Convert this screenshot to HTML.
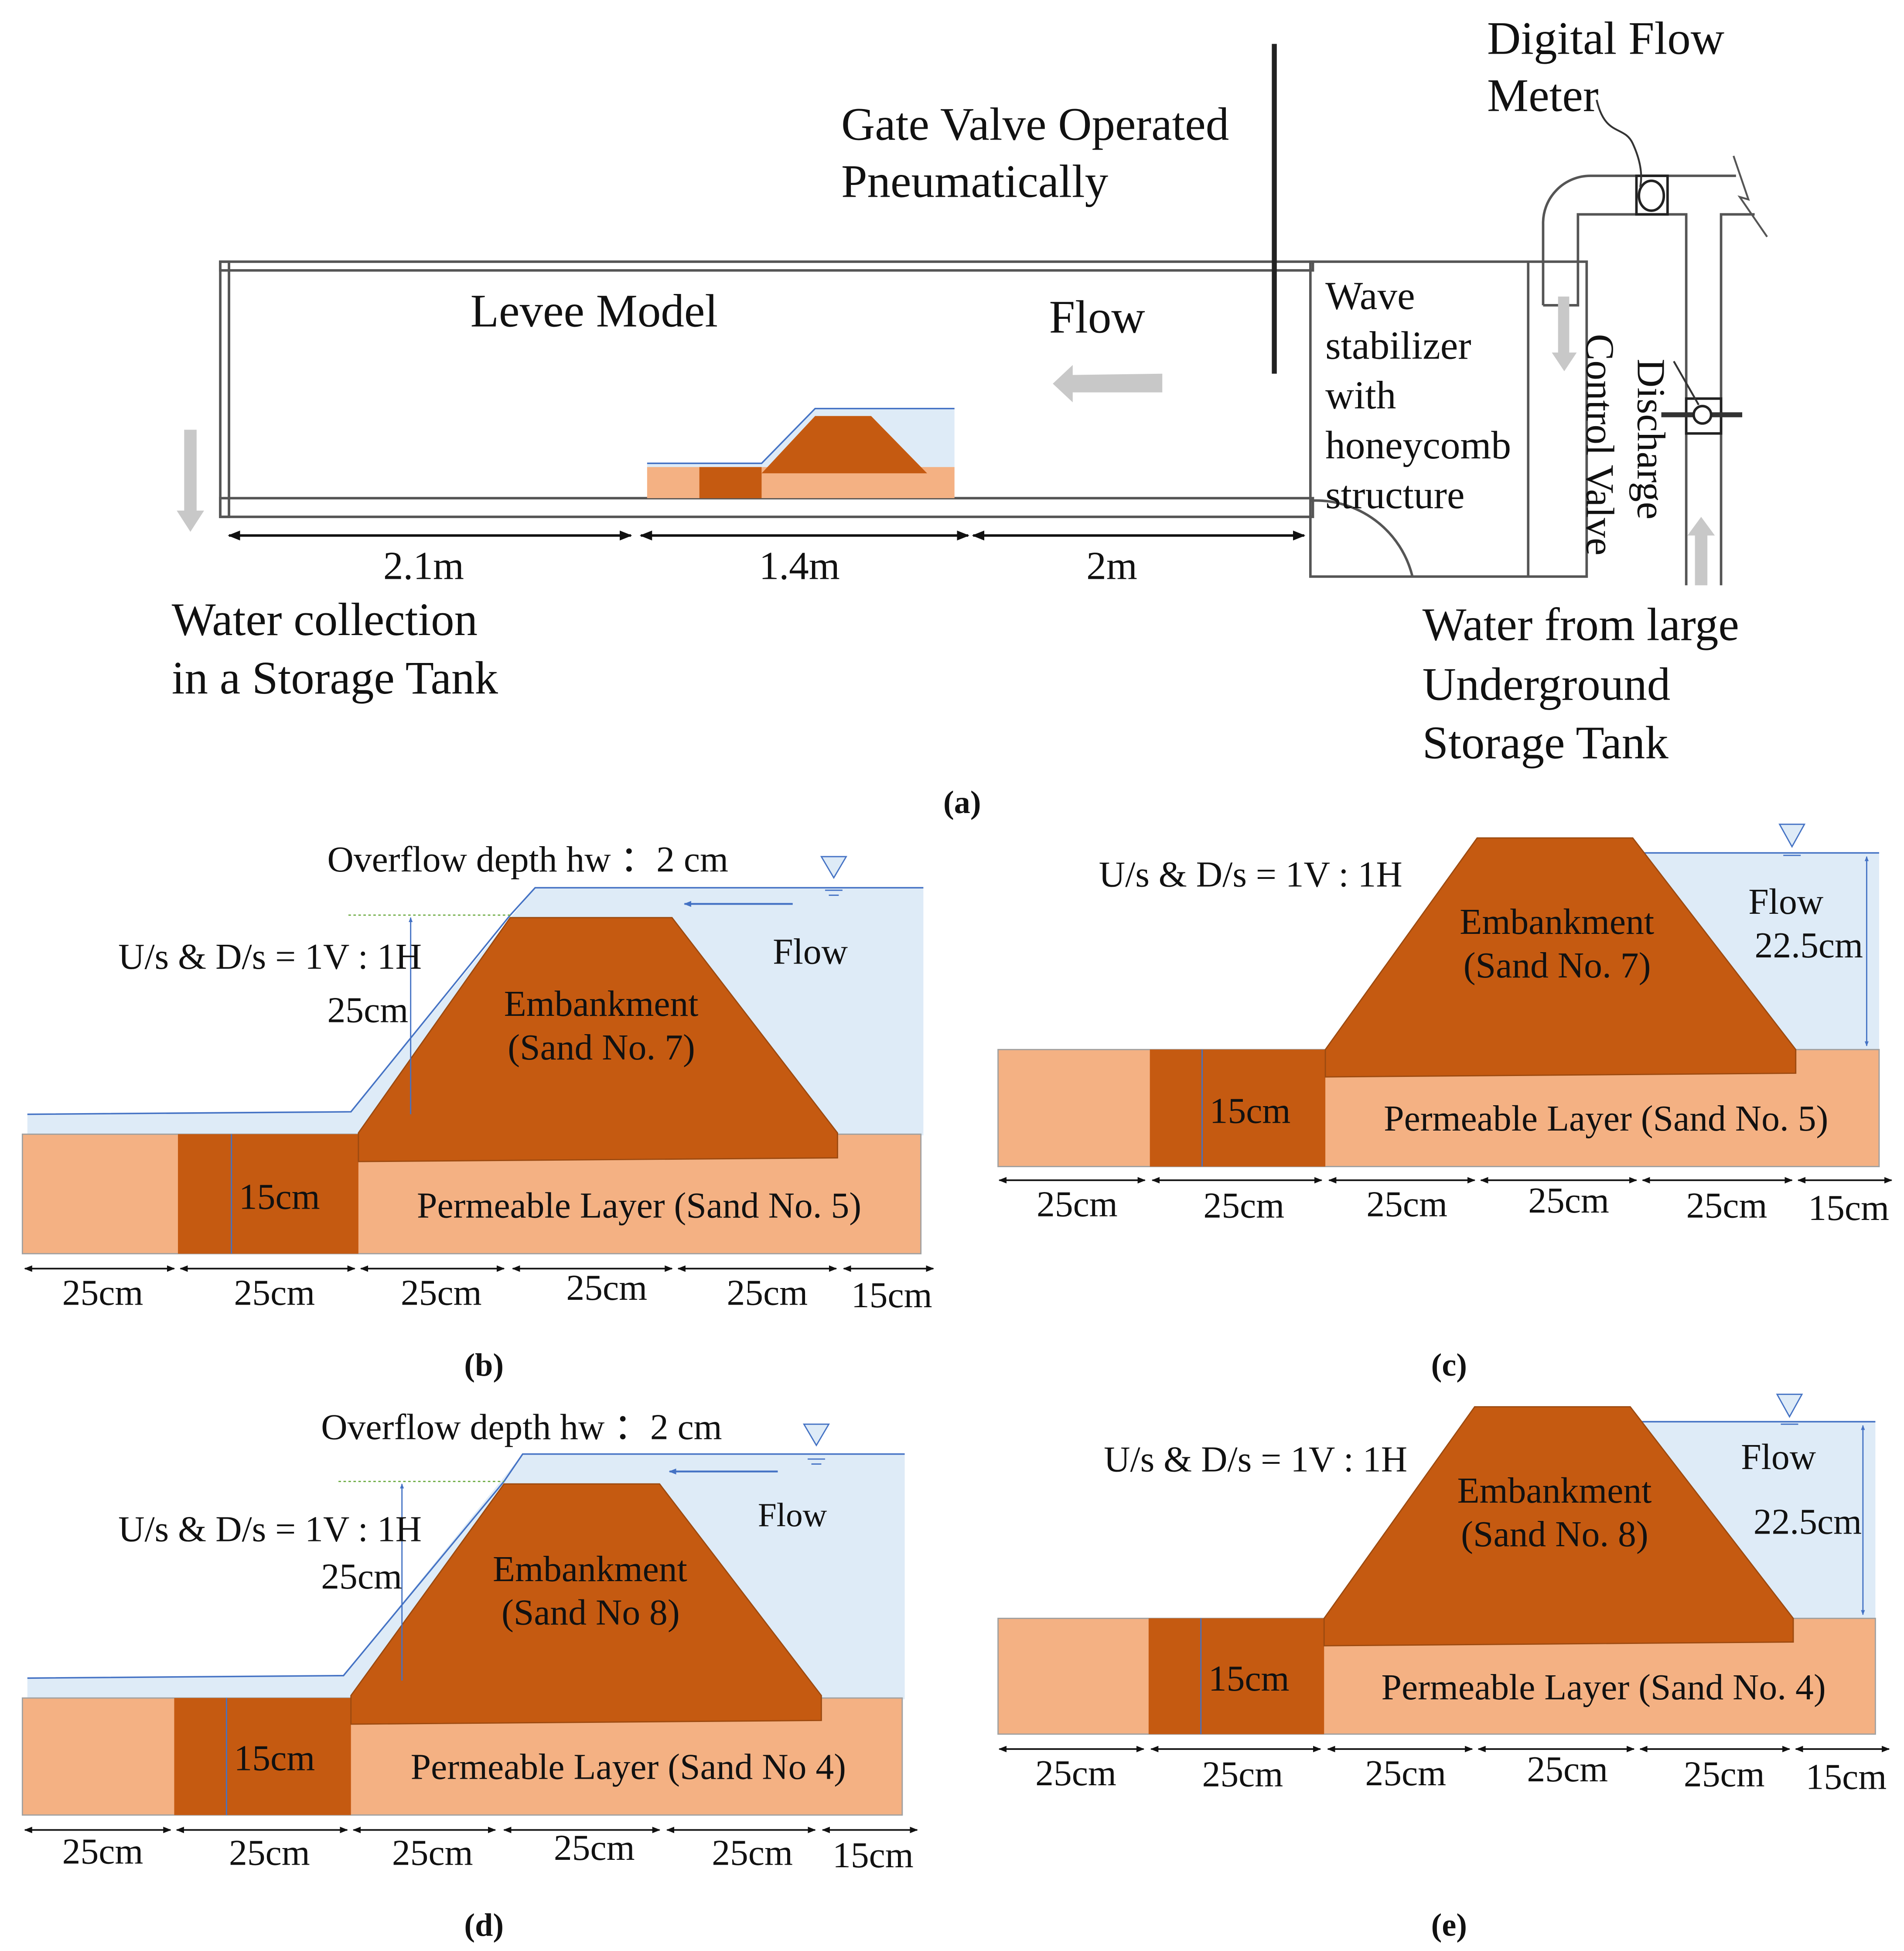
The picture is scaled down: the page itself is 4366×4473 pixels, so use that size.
<!DOCTYPE html>
<html><head><meta charset="utf-8"><style>
html,body{margin:0;padding:0;background:#fff}
svg{display:block}
text{font-family:"Liberation Serif",serif;fill:#111}
</style></head><body>
<svg width="4366" height="4473" viewBox="0 0 1530 1567" xmlns="http://www.w3.org/2000/svg">
<defs>
<marker id="ar" viewBox="0 0 10 10" refX="9" refY="5" markerWidth="5" markerHeight="5" orient="auto-start-reverse"><path d="M0,1 L10,5 L0,9 z" fill="#111"/></marker>
<marker id="ab" viewBox="0 0 10 10" refX="9" refY="5" markerWidth="4" markerHeight="4" orient="auto-start-reverse"><path d="M0,1 L10,5 L0,9 z" fill="#4472c4"/></marker>
</defs>

<!-- ===== Panel (a) ===== -->
<g fill="none" stroke="#555" stroke-width="2">
  <rect x="177" y="210" width="878" height="7"/>
  <rect x="177" y="400" width="878" height="15"/>
  <rect x="177" y="210" width="7" height="205"/>
  <rect x="1053" y="210" width="222" height="253"/>
  <line x1="1228" y1="210" x2="1228" y2="463"/>
  <path d="M1053,402 A80,80 0 0 1 1135,463"/>
  <path d="M1240,245 L1240,180 A38,38 0 0 1 1278,141 L1395,141 M1240,245 L1268,245 L1268,172 L1355,172 L1355,470 M1383,470 L1383,172 L1410,172"/>
  <path d="M1393,125 L1405,160 L1398,158 L1420,190" stroke-width="1.5"/>
  <rect x="1315" y="141" width="25" height="31" stroke="#222"/>
  <ellipse cx="1327" cy="157" rx="10" ry="12" stroke="#222"/>
  <path d="M1283,80 C1290,110 1305,100 1312,115 C1318,128 1320,140 1318,150" stroke="#333" stroke-width="1.5"/>
  <rect x="1355" y="320" width="28" height="28" stroke="#222"/>
  <path d="M1335,333 L1400,333" stroke="#333" stroke-width="4"/>
  <circle cx="1368" cy="333" r="7" stroke="#222" fill="#fff"/>
  <line x1="1345" y1="290" x2="1365" y2="325" stroke="#333" stroke-width="1.5"/>
  <line x1="1024" y1="35" x2="1024" y2="300" stroke="#222" stroke-width="4"/>
</g>
<g fill="#c8c8c8">
  <path d="M148,345 h10 v65 h6 l-11,17 l-11,-17 h6 z"/>
  <path d="M934,300 v15 h-72 v8 l-16,-15 l16,-15 v8 z"/>
  <path d="M1252,238 h9 v45 h6 l-10,15 l-10,-15 h5 z"/>
  <path d="M1362,470 h10 v-40 h6 l-11,-15 l-11,15 h6 z"/>
</g>
<g>
  <path d="M520,372 L612,372 L655,328 L767,328 L767,380 L520,380 z" fill="#deebf7"/>
  <path d="M520,372 L612,372 L655,328 L767,328" fill="none" stroke="#4472c4" stroke-width="1.2"/>
  <rect x="520" y="375" width="247" height="25" fill="#f4b183"/>
  <rect x="562" y="375" width="50" height="25" fill="#c55a11"/>
  <path d="M612,380 L655,334 L700,334 L745,380 z" fill="#c55a11"/>
</g>
<g stroke="#111" stroke-width="2">
  <line x1="184" y1="430" x2="507" y2="430" marker-start="url(#ar)" marker-end="url(#ar)"/>
  <line x1="515" y1="430" x2="778" y2="430" marker-start="url(#ar)" marker-end="url(#ar)"/>
  <line x1="782" y1="430" x2="1048" y2="430" marker-start="url(#ar)" marker-end="url(#ar)"/>
</g>
<g font-size="37.5">
  <text x="378" y="262">Levee Model</text>
  <text x="843" y="267">Flow</text>
  <text x="676" y="112">Gate Valve Operated</text>
  <text x="676" y="158">Pneumatically</text>
  <text x="1195" y="43">Digital Flow</text>
  <text x="1195" y="89">Meter</text>
  <text x="308" y="465" font-size="32">2.1m</text>
  <text x="610" y="465" font-size="32">1.4m</text>
  <text x="873" y="465" font-size="32">2m</text>
  <text x="138" y="510">Water collection</text>
  <text x="138" y="557">in a Storage Tank</text>
  <text x="1143" y="514">Water from large</text>
  <text x="1143" y="562">Underground</text>
  <text x="1143" y="609">Storage Tank</text>
</g>
<g font-size="32">
  <text x="1065" y="248">Wave</text>
  <text x="1065" y="288">stabilizer</text>
  <text x="1065" y="328">with</text>
  <text x="1065" y="368">honeycomb</text>
  <text x="1065" y="408">structure</text>
</g>
<text font-size="32" transform="translate(1275,268) rotate(90)">Control Valve</text>
<text font-size="32" transform="translate(1316,288) rotate(90)">Discharge</text>
<text x="758" y="653" font-size="26" font-weight="bold">(a)</text>

<!-- ===== Panel (b) ===== -->
<g>
  <path d="M22,895 L282,893 L430,713 L742,713 L742,912 L22,912 z" fill="#deebf7"/>
  <path d="M22,895 L282,893 L410,735 L430,713 L742,713" fill="none" stroke="#4472c4" stroke-width="1.2"/>
  <rect x="18" y="911" width="722" height="96" fill="#f4b183" stroke="#a0a0a0" stroke-width="1"/>
  <rect x="143" y="911" width="145" height="96" fill="#c55a11"/>
  <path d="M288,910 L410,737 L540,737 L673,910 L673,930 L288,933 z" fill="#c55a11" stroke="#9c4a10" stroke-width="1"/>
  <line x1="280" y1="735" x2="410" y2="735" stroke="#70ad47" stroke-width="1" stroke-dasharray="2,2"/>
  <line x1="330" y1="737" x2="330" y2="895" stroke="#4472c4" stroke-width="1" marker-start="url(#ab)"/>
  <line x1="186" y1="911" x2="186" y2="1007" stroke="#4472c4" stroke-width="1"/>
  <line x1="637" y1="726" x2="550" y2="726" stroke="#4472c4" stroke-width="1.5" marker-end="url(#ab)"/>
  <path d="M660,688 L680,688 L670,705 z" fill="#deebf7" stroke="#4472c4" stroke-width="1"/>
  <line x1="663" y1="715" x2="677" y2="715" stroke="#4472c4"/><line x1="666" y1="719" x2="674" y2="719" stroke="#4472c4"/>
  <g stroke="#111" stroke-width="1.3">
    <line x1="20" y1="1019" x2="140" y2="1019" marker-start="url(#ar)" marker-end="url(#ar)"/>
    <line x1="145" y1="1019" x2="285" y2="1019" marker-start="url(#ar)" marker-end="url(#ar)"/>
    <line x1="290" y1="1019" x2="405" y2="1019" marker-start="url(#ar)" marker-end="url(#ar)"/>
    <line x1="412" y1="1019" x2="540" y2="1019" marker-start="url(#ar)" marker-end="url(#ar)"/>
    <line x1="545" y1="1019" x2="672" y2="1019" marker-start="url(#ar)" marker-end="url(#ar)"/>
    <line x1="678" y1="1019" x2="750" y2="1019" marker-start="url(#ar)" marker-end="url(#ar)"/>
  </g>
  <g font-size="29.3">
    <text x="263" y="700">Overflow depth hw ：2 cm</text>
    <text x="95" y="778">U/s &amp; D/s = 1V : 1H</text>
    <text x="263" y="821">25cm</text>
    <text x="621" y="774">Flow</text>
    <text x="405" y="816">Embankment</text>
    <text x="408" y="851">(Sand No. 7)</text>
    <text x="192" y="971">15cm</text>
    <text x="335" y="978">Permeable Layer (Sand No. 5)</text>
    <text x="50" y="1048">25cm</text><text x="188" y="1048">25cm</text><text x="322" y="1048">25cm</text>
    <text x="455" y="1044">25cm</text><text x="584" y="1048">25cm</text><text x="684" y="1050">15cm</text>
  </g>
  <text x="373" y="1105" font-size="26" font-weight="bold">(b)</text>
</g>

<!-- ===== Panel (c) ===== -->
<g>
  <path d="M1303,685 L1510,685 L1510,845 L1443,845 z" fill="#deebf7"/>
  <line x1="1303" y1="685" x2="1510" y2="685" stroke="#4472c4" stroke-width="1.2"/>
  <rect x="802" y="843" width="708" height="94" fill="#f4b183" stroke="#a0a0a0" stroke-width="1"/>
  <rect x="924" y="843" width="141" height="94" fill="#c55a11"/>
  <path d="M1065,843 L1187,673 L1312,673 L1443,843 L1443,862 L1065,865 z" fill="#c55a11" stroke="#9c4a10" stroke-width="1"/>
  <line x1="966" y1="843" x2="966" y2="937" stroke="#4472c4" stroke-width="1"/>
  <line x1="1500" y1="688" x2="1500" y2="840" stroke="#4472c4" stroke-width="1" marker-start="url(#ab)" marker-end="url(#ab)"/>
  <path d="M1430,662 L1450,662 L1440,680 z" fill="#deebf7" stroke="#4472c4" stroke-width="1"/>
  <line x1="1433" y1="687" x2="1447" y2="687" stroke="#4472c4"/>
  <g stroke="#111" stroke-width="1.3">
    <line x1="803" y1="948" x2="920" y2="948" marker-start="url(#ar)" marker-end="url(#ar)"/>
    <line x1="926" y1="948" x2="1062" y2="948" marker-start="url(#ar)" marker-end="url(#ar)"/>
    <line x1="1068" y1="948" x2="1185" y2="948" marker-start="url(#ar)" marker-end="url(#ar)"/>
    <line x1="1190" y1="948" x2="1315" y2="948" marker-start="url(#ar)" marker-end="url(#ar)"/>
    <line x1="1320" y1="948" x2="1440" y2="948" marker-start="url(#ar)" marker-end="url(#ar)"/>
    <line x1="1445" y1="948" x2="1520" y2="948" marker-start="url(#ar)" marker-end="url(#ar)"/>
  </g>
  <g font-size="29.3">
    <text x="883" y="712">U/s &amp; D/s = 1V : 1H</text>
    <text x="1173" y="750">Embankment</text>
    <text x="1176" y="785">(Sand No. 7)</text>
    <text x="1405" y="734">Flow</text>
    <text x="1410" y="769">22.5cm</text>
    <text x="972" y="902">15cm</text>
    <text x="1112" y="908">Permeable Layer (Sand No. 5)</text>
    <text x="833" y="977">25cm</text><text x="967" y="978">25cm</text><text x="1098" y="977">25cm</text>
    <text x="1228" y="974">25cm</text><text x="1355" y="978">25cm</text><text x="1453" y="980">15cm</text>
  </g>
  <text x="1150" y="1105" font-size="26" font-weight="bold">(c)</text>
</g>

<!-- ===== Panel (d) ===== -->
<g>
  <path d="M22,1348 L276,1346 L420,1168 L727,1168 L727,1365 L22,1365 z" fill="#deebf7"/>
  <path d="M22,1348 L276,1346 L405,1190 L420,1168 L727,1168" fill="none" stroke="#4472c4" stroke-width="1.2"/>
  <rect x="18" y="1364" width="707" height="94" fill="#f4b183" stroke="#a0a0a0" stroke-width="1"/>
  <rect x="140" y="1364" width="142" height="94" fill="#c55a11"/>
  <path d="M282,1362 L405,1192 L530,1192 L660,1362 L660,1382 L282,1385 z" fill="#c55a11" stroke="#9c4a10" stroke-width="1"/>
  <line x1="272" y1="1190" x2="405" y2="1190" stroke="#70ad47" stroke-width="1" stroke-dasharray="2,2"/>
  <line x1="323" y1="1192" x2="323" y2="1350" stroke="#4472c4" stroke-width="1" marker-start="url(#ab)"/>
  <line x1="182" y1="1364" x2="182" y2="1458" stroke="#4472c4" stroke-width="1"/>
  <line x1="625" y1="1182" x2="538" y2="1182" stroke="#4472c4" stroke-width="1.5" marker-end="url(#ab)"/>
  <path d="M646,1144 L666,1144 L656,1161 z" fill="#deebf7" stroke="#4472c4" stroke-width="1"/>
  <line x1="649" y1="1172" x2="663" y2="1172" stroke="#4472c4"/><line x1="652" y1="1176" x2="660" y2="1176" stroke="#4472c4"/>
  <g stroke="#111" stroke-width="1.3">
    <line x1="20" y1="1470" x2="137" y2="1470" marker-start="url(#ar)" marker-end="url(#ar)"/>
    <line x1="142" y1="1470" x2="279" y2="1470" marker-start="url(#ar)" marker-end="url(#ar)"/>
    <line x1="284" y1="1470" x2="398" y2="1470" marker-start="url(#ar)" marker-end="url(#ar)"/>
    <line x1="405" y1="1470" x2="530" y2="1470" marker-start="url(#ar)" marker-end="url(#ar)"/>
    <line x1="536" y1="1470" x2="655" y2="1470" marker-start="url(#ar)" marker-end="url(#ar)"/>
    <line x1="661" y1="1470" x2="737" y2="1470" marker-start="url(#ar)" marker-end="url(#ar)"/>
  </g>
  <g font-size="29.3">
    <text x="258" y="1156">Overflow depth hw ：2 cm</text>
    <text x="95" y="1238">U/s &amp; D/s = 1V : 1H</text>
    <text x="258" y="1276">25cm</text>
    <text x="609" y="1226" font-size="27">Flow</text>
    <text x="396" y="1270">Embankment</text>
    <text x="403" y="1305">(Sand No 8)</text>
    <text x="188" y="1422">15cm</text>
    <text x="330" y="1429">Permeable Layer (Sand No 4)</text>
    <text x="50" y="1497">25cm</text><text x="184" y="1498">25cm</text><text x="315" y="1498">25cm</text>
    <text x="445" y="1494">25cm</text><text x="572" y="1498">25cm</text><text x="669" y="1500">15cm</text>
  </g>
  <text x="373" y="1555" font-size="26" font-weight="bold">(d)</text>
</g>

<!-- ===== Panel (e) ===== -->
<g>
  <path d="M1300,1142 L1507,1142 L1507,1302 L1441,1302 z" fill="#deebf7"/>
  <line x1="1300" y1="1142" x2="1507" y2="1142" stroke="#4472c4" stroke-width="1.2"/>
  <rect x="802" y="1300" width="705" height="93" fill="#f4b183" stroke="#a0a0a0" stroke-width="1"/>
  <rect x="923" y="1300" width="141" height="93" fill="#c55a11"/>
  <path d="M1064,1300 L1185,1130 L1310,1130 L1441,1300 L1441,1319 L1064,1322 z" fill="#c55a11" stroke="#9c4a10" stroke-width="1"/>
  <line x1="965" y1="1300" x2="965" y2="1393" stroke="#4472c4" stroke-width="1"/>
  <line x1="1497" y1="1145" x2="1497" y2="1297" stroke="#4472c4" stroke-width="1" marker-start="url(#ab)" marker-end="url(#ab)"/>
  <path d="M1428,1120 L1448,1120 L1438,1138 z" fill="#deebf7" stroke="#4472c4" stroke-width="1"/>
  <line x1="1431" y1="1144" x2="1445" y2="1144" stroke="#4472c4"/>
  <g stroke="#111" stroke-width="1.3">
    <line x1="803" y1="1405" x2="919" y2="1405" marker-start="url(#ar)" marker-end="url(#ar)"/>
    <line x1="925" y1="1405" x2="1061" y2="1405" marker-start="url(#ar)" marker-end="url(#ar)"/>
    <line x1="1067" y1="1405" x2="1183" y2="1405" marker-start="url(#ar)" marker-end="url(#ar)"/>
    <line x1="1188" y1="1405" x2="1313" y2="1405" marker-start="url(#ar)" marker-end="url(#ar)"/>
    <line x1="1318" y1="1405" x2="1438" y2="1405" marker-start="url(#ar)" marker-end="url(#ar)"/>
    <line x1="1443" y1="1405" x2="1518" y2="1405" marker-start="url(#ar)" marker-end="url(#ar)"/>
  </g>
  <g font-size="29.3">
    <text x="887" y="1182">U/s &amp; D/s = 1V : 1H</text>
    <text x="1171" y="1207">Embankment</text>
    <text x="1174" y="1242">(Sand No. 8)</text>
    <text x="1399" y="1180">Flow</text>
    <text x="1409" y="1232">22.5cm</text>
    <text x="971" y="1358">15cm</text>
    <text x="1110" y="1365">Permeable Layer (Sand No. 4)</text>
    <text x="832" y="1434">25cm</text><text x="966" y="1435">25cm</text><text x="1097" y="1434">25cm</text>
    <text x="1227" y="1431">25cm</text><text x="1353" y="1435">25cm</text><text x="1451" y="1437">15cm</text>
  </g>
  <text x="1150" y="1555" font-size="26" font-weight="bold">(e)</text>
</g>
</svg>
</body></html>
